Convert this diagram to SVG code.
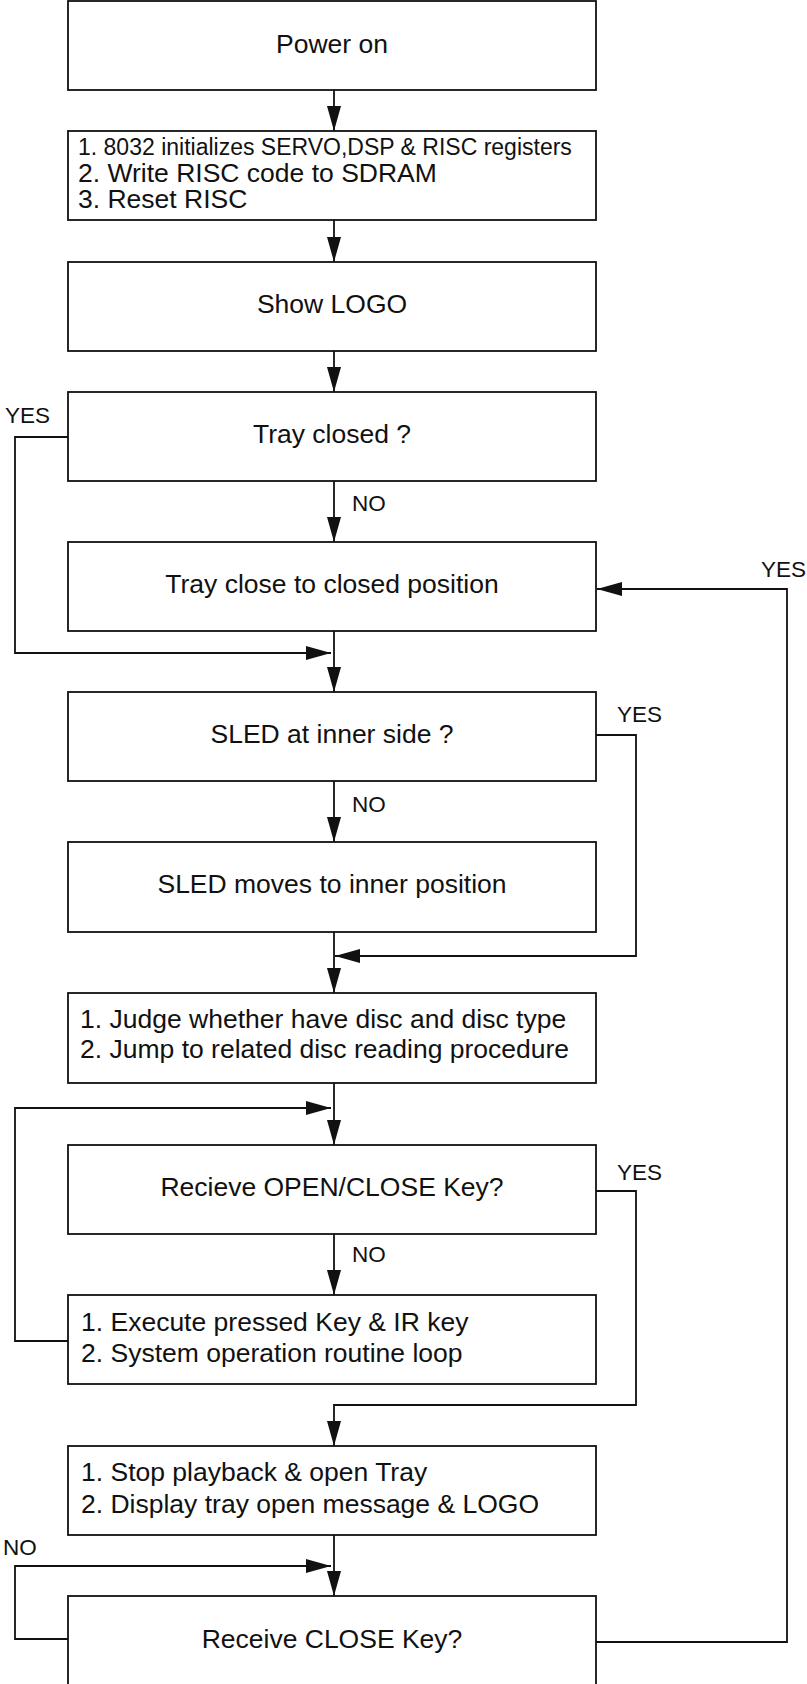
<svg xmlns="http://www.w3.org/2000/svg" width="807" height="1684" viewBox="0 0 807 1684">
<style>
.box{fill:#fff;stroke:#111;stroke-width:1.8}
.t{font-family:"Liberation Sans",Arial,sans-serif;font-size:26.5px;fill:#111}
.c{text-anchor:middle}
.lbl{font-family:"Liberation Sans",Arial,sans-serif;font-size:22.5px;fill:#111}
.ln{fill:none;stroke:#111;stroke-width:1.8;marker-end:url(#ah)}
</style>
<defs>
<marker id="ah" markerUnits="userSpaceOnUse" markerWidth="25" markerHeight="14" viewBox="0 0 25 14" refX="25" refY="7" orient="auto">
<path d="M0,0 L25,7 L0,14 z" fill="#111"/>
</marker>
</defs>
<rect width="807" height="1684" fill="#fff"/>
<g id="connectors">
<path class="ln" d="M334,90 V131"/>
<path class="ln" d="M334,220 V262"/>
<path class="ln" d="M334,351 V392"/>
<path class="ln" d="M334,481 V542"/>
<path class="ln" d="M68,437 H15 V653 H331"/>
<path class="ln" d="M334,631 V692"/>
<path class="ln" d="M334,781 V842"/>
<path class="ln" d="M596,735 H636 V956 H335"/>
<path class="ln" d="M334,932 V993"/>
<path class="ln" d="M334,1083 V1145"/>
<path class="ln" d="M68,1341 H15 V1108 H331"/>
<path class="ln" d="M334,1234 V1295"/>
<path class="ln" d="M596,1191 H636 V1405 H334 V1446"/>
<path class="ln" d="M334,1535 V1596"/>
<path class="ln" d="M68,1639 H15 V1566 H331"/>
<path class="ln" d="M596,1642 H787 V589 H597"/>
<text class="lbl" x="5" y="423">YES</text>
<text class="lbl" x="352" y="511">NO</text>
<text class="lbl" x="761" y="577">YES</text>
<text class="lbl" x="617" y="722">YES</text>
<text class="lbl" x="352" y="812">NO</text>
<text class="lbl" x="617" y="1180">YES</text>
<text class="lbl" x="352" y="1262">NO</text>
<text class="lbl" x="3" y="1555">NO</text>
</g>
<g id="n1"><rect class="box" x="68" y="1" width="528" height="89"/><text class="t c" x="332" y="53">Power on</text></g>
<g id="n2"><rect class="box" x="68" y="131" width="528" height="89"/>
<text class="t"><tspan x="78" y="155" font-size="23">1. 8032 initializes SERVO,DSP &amp; RISC registers</tspan><tspan x="78" y="182">2. Write RISC code to SDRAM</tspan><tspan x="78" y="208">3. Reset RISC</tspan></text></g>
<g id="n3"><rect class="box" x="68" y="262" width="528" height="89"/><text class="t c" x="332" y="313">Show LOGO</text></g>
<g id="n4"><rect class="box" x="68" y="392" width="528" height="89"/><text class="t c" x="332" y="443">Tray closed ?</text></g>
<g id="n5"><rect class="box" x="68" y="542" width="528" height="89"/><text class="t c" x="332" y="593">Tray close to closed position</text></g>
<g id="n6"><rect class="box" x="68" y="692" width="528" height="89"/><text class="t c" x="332" y="743">SLED at inner side ?</text></g>
<g id="n7"><rect class="box" x="68" y="842" width="528" height="90"/><text class="t c" x="332" y="893">SLED moves to inner position</text></g>
<g id="n8"><rect class="box" x="68" y="993" width="528" height="90"/>
<text class="t"><tspan x="80" y="1028">1. Judge whether have disc and disc type</tspan><tspan x="80" y="1058">2. Jump to related disc reading procedure</tspan></text></g>
<g id="n9"><rect class="box" x="68" y="1145" width="528" height="89"/><text class="t c" x="332" y="1196">Recieve OPEN/CLOSE Key?</text></g>
<g id="n10"><rect class="box" x="68" y="1295" width="528" height="89"/>
<text class="t"><tspan x="81" y="1331">1. Execute pressed Key &amp; IR key</tspan><tspan x="81" y="1362">2. System operation routine loop</tspan></text></g>
<g id="n11"><rect class="box" x="68" y="1446" width="528" height="89"/>
<text class="t"><tspan x="81" y="1481">1. Stop playback &amp; open Tray</tspan><tspan x="81" y="1513">2. Display tray open message &amp; LOGO</tspan></text></g>
<g id="n12"><rect class="box" x="68" y="1596" width="528" height="90"/><text class="t c" x="332" y="1648">Receive CLOSE Key?</text></g>
</svg>
